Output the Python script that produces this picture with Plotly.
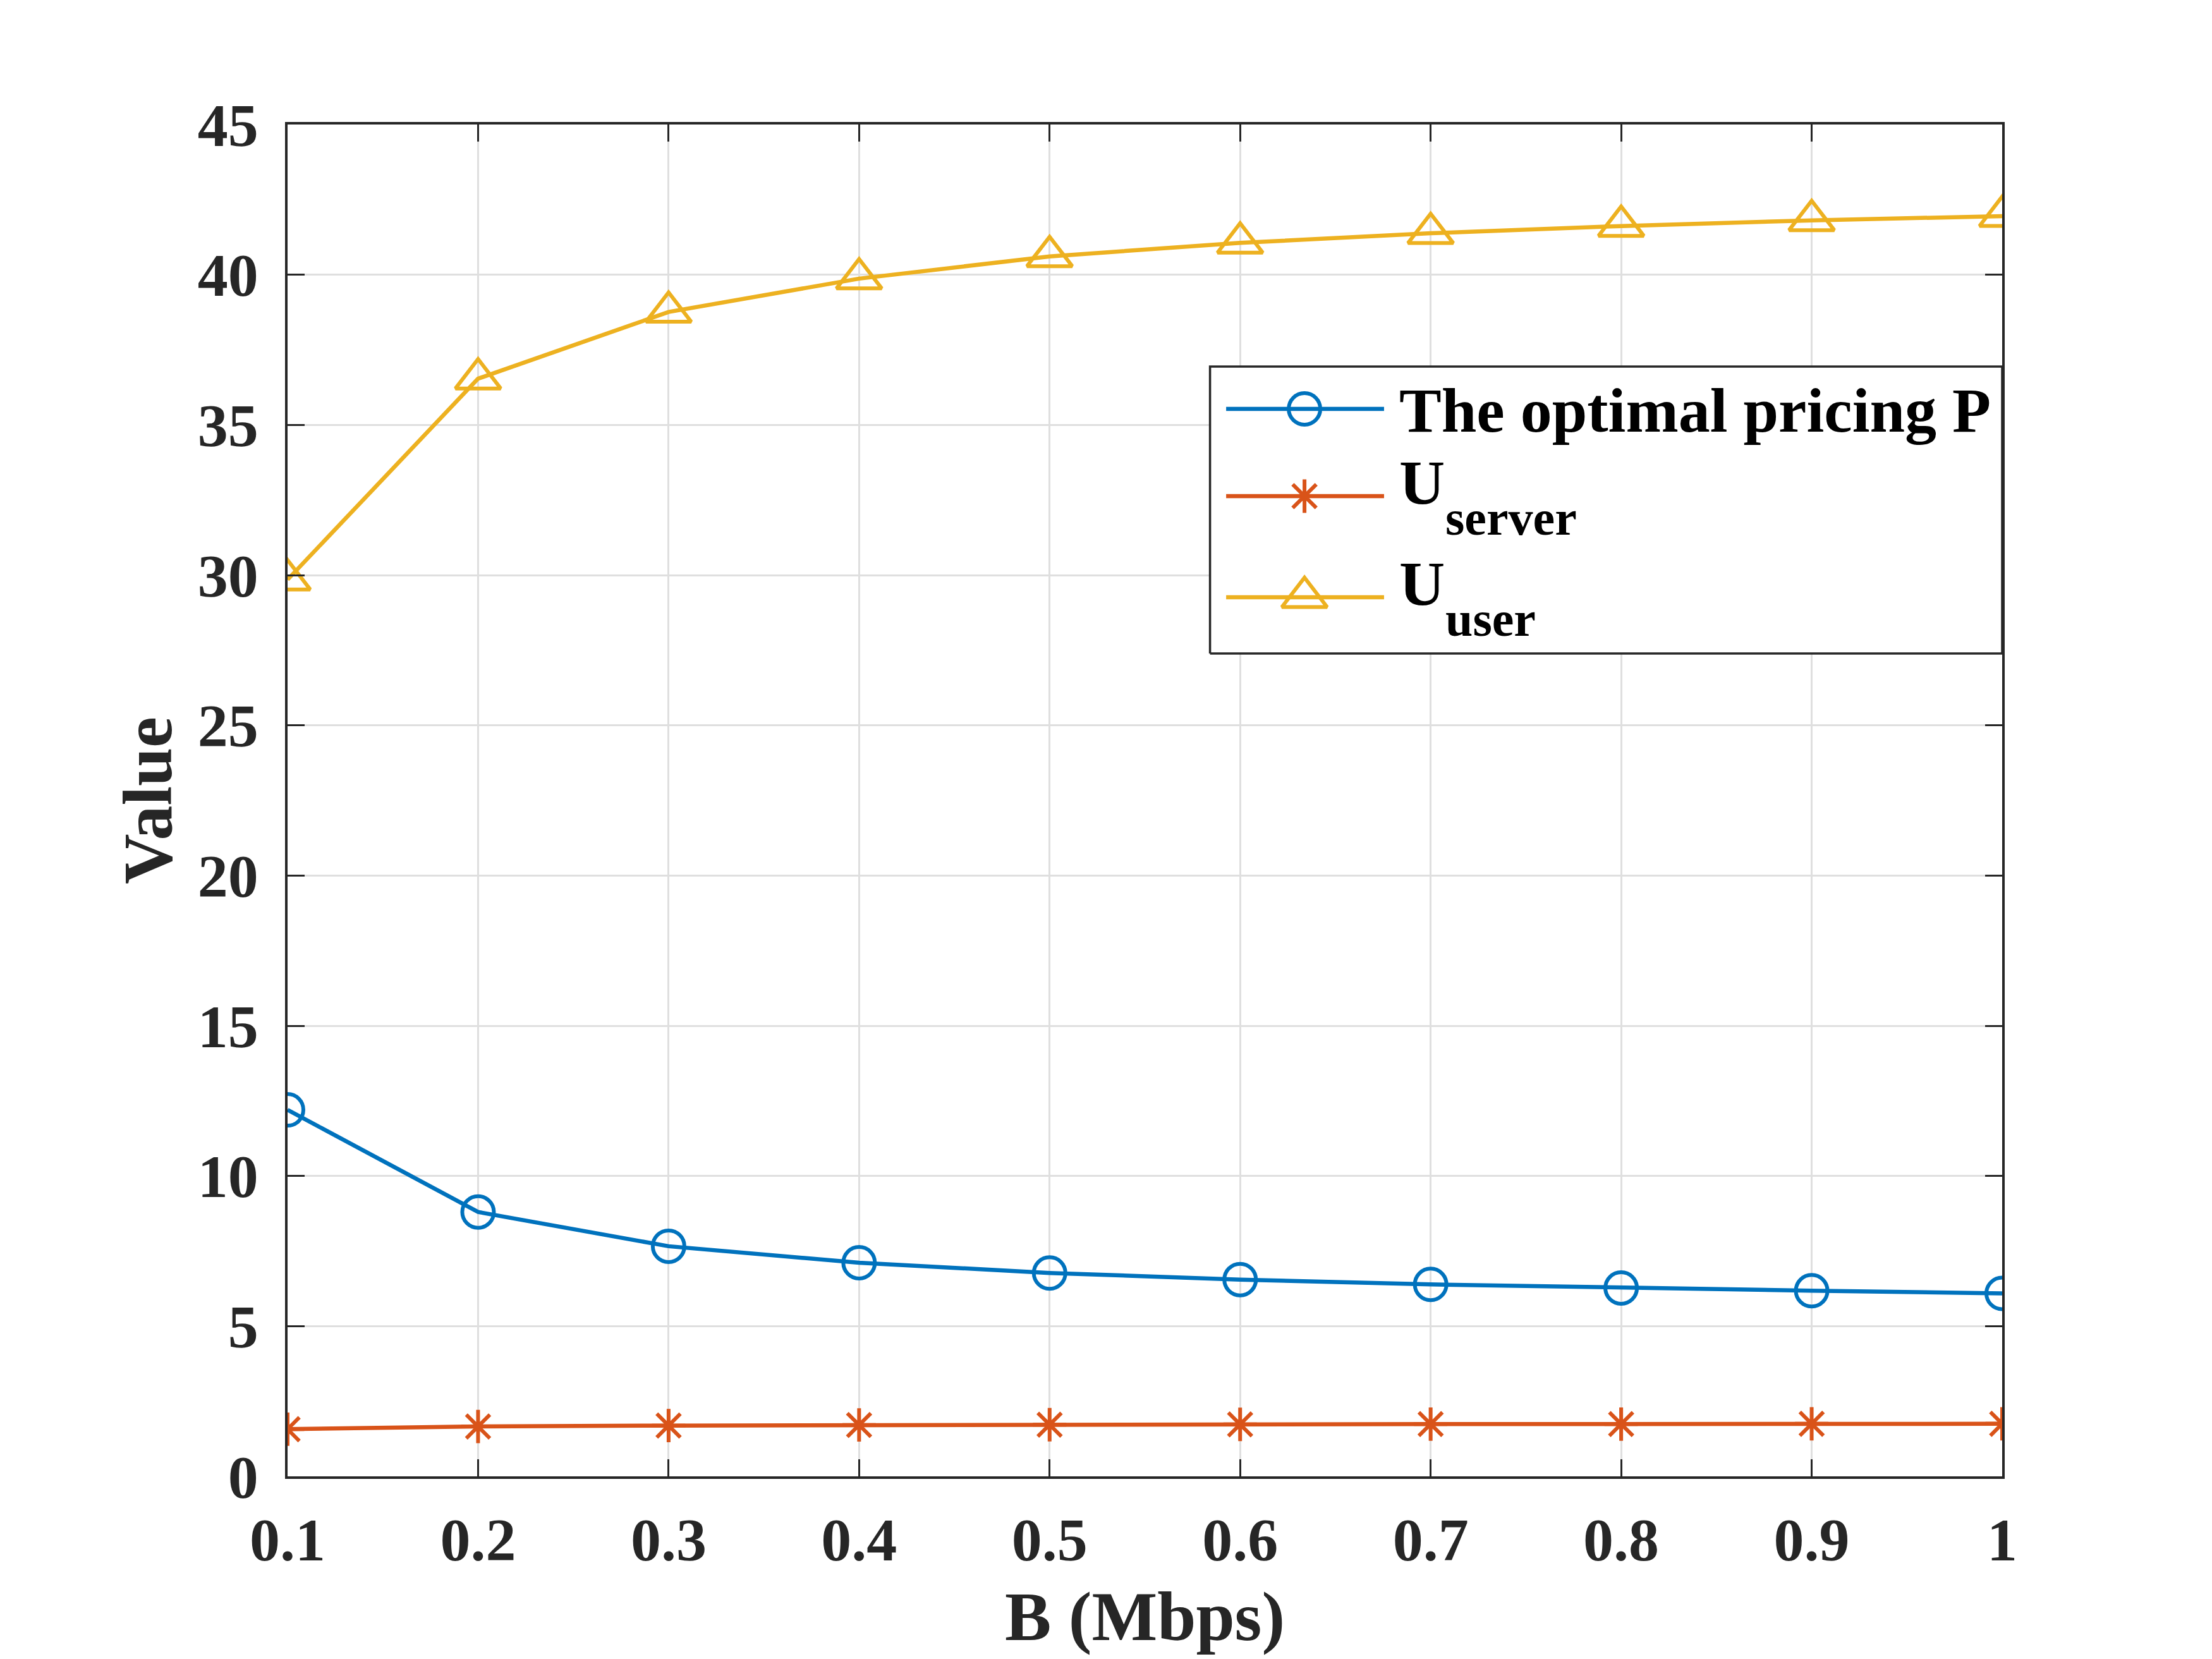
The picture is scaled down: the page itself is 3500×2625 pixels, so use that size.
import plotly.graph_objects as go

# bandwidth B (Mbps)
bandwidth = [0.1, 0.2, 0.3, 0.4, 0.5, 0.6, 0.7, 0.8, 0.9, 1.0]
optimal_price = [12.2, 8.80, 7.66, 7.11, 6.77, 6.55, 6.39, 6.27, 6.18, 6.09]
u_server = [1.57, 1.66, 1.69, 1.71, 1.72, 1.73, 1.74, 1.74, 1.75, 1.75]
u_user = [29.85, 36.54, 38.76, 39.87, 40.61, 41.06, 41.38, 41.62, 41.81, 41.95]

series = [optimal_price, u_server, u_user]
names = ["The optimal pricing P", "U<sub>server</sub>", "U<sub>user</sub>"]
colors = ["#0072BD", "#D95319", "#EDB120"]
symbols = ["circle-open", "asterisk-open", "triangle-up-open"]
sizes = [50, 44, 62]

serif = "Liberation Serif"
axis_col = "#262626"
lw = 6.5

fig = go.Figure()
for ys, name, col, sym, sz in zip(series, names, colors, symbols, sizes):
    fig.add_trace(go.Scatter(
        x=bandwidth, y=ys, name=name, mode="lines+markers", showlegend=False,
        line=dict(color=col, width=lw),
        marker=dict(symbol=sym, size=sz, color=col, line=dict(color=col, width=6)),
    ))

# MATLAB-style legend box drawn on a hidden overlay (axes-fraction coords)
box_x = [0.538, 1.0]
box_y = [0.6087, 0.8209]
fig.add_trace(go.Scatter(
    x=[box_x[0], box_x[1], box_x[1], box_x[0], box_x[0]],
    y=[box_y[0], box_y[0], box_y[1], box_y[1], box_y[0]],
    mode="lines", fill="toself", fillcolor="white",
    line=dict(color=axis_col, width=3.5),
    xaxis="x2", yaxis="y2", showlegend=False, hoverinfo="skip",
))
row_y = [0.7896, 0.7251, 0.6503]
for ry, col, sym, sz in zip(row_y, colors, symbols, sizes):
    fig.add_trace(go.Scatter(
        x=[0.5474, 0.6395], y=[ry, ry], mode="lines",
        line=dict(color=col, width=lw),
        xaxis="x2", yaxis="y2", showlegend=False, hoverinfo="skip",
    ))
    fig.add_trace(go.Scatter(
        x=[0.5931], y=[ry], mode="markers",
        marker=dict(symbol=sym, size=sz, color=col, line=dict(color=col, width=6)),
        xaxis="x2", yaxis="y2", showlegend=False, hoverinfo="skip",
    ))

leg_font = dict(family=serif, size=100, color="black", weight="bold")
sub_font = dict(family=serif, size=78, color="black", weight="bold")
legend_texts = [
    ("The optimal pricing P", 0.6476, 0.7616, leg_font),
    ("U", 0.6476, 0.7083, leg_font),
    ("server", 0.6745, 0.6877, sub_font),
    ("U", 0.6476, 0.6335, leg_font),
    ("user", 0.6745, 0.6129, sub_font),
]
for txt, tx, ty, fnt in legend_texts:
    fig.add_annotation(text=txt, x=tx, y=ty, xref="paper", yref="paper",
                       xanchor="left", yanchor="bottom", showarrow=False, font=fnt)

axis_common = dict(
    showline=True, linecolor=axis_col, linewidth=4, mirror="ticks",
    ticks="inside", ticklen=27, tickwidth=3, tickcolor=axis_col,
    showgrid=True, gridcolor="#dfdfdf", gridwidth=3, zeroline=False,
    tickfont=dict(family=serif, size=96, color=axis_col, weight="bold"),
)

fig.update_layout(
    xaxis=dict(range=[0.1, 1.0], dtick=0.1, tick0=0.1, ticklabelstandoff=14,
               title=dict(text="B (Mbps)", standoff=30,
                          font=dict(family=serif, size=110, color=axis_col, weight="bold")),
               **axis_common),
    yaxis=dict(range=[0, 45], dtick=5, ticklabelstandoff=23,
               title=dict(text="Value", standoff=5,
                          font=dict(family=serif, size=110, color=axis_col, weight="bold")),
               **axis_common),
    xaxis2=dict(domain=[0, 1], range=[0, 1], visible=False, fixedrange=True, anchor="y2"),
    yaxis2=dict(domain=[0, 1], range=[0, 1], visible=False, fixedrange=True, anchor="x2"),
    width=3500, height=2625,
    margin=dict(l=455, r=332, t=197, b=289),
    paper_bgcolor="white", plot_bgcolor="rgba(0,0,0,0)",
    showlegend=False,
)

fig.write_html("out.html", config={"displayModeBar": False},
               post_script="document.body.style.margin='0';")
